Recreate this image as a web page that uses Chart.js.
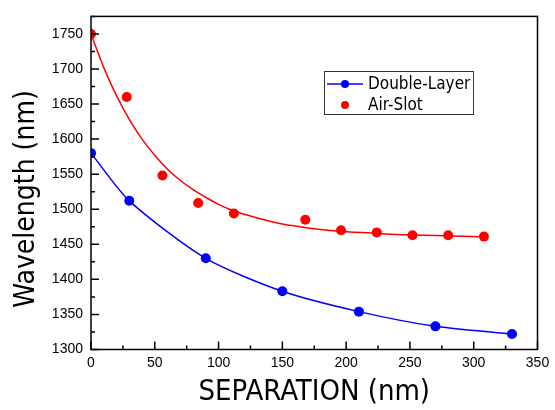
<!DOCTYPE html>
<html>
<head>
<meta charset="utf-8">
<script src="https://cdn.jsdelivr.net/npm/chart.js@4.4.1/dist/chart.umd.min.js"></script>
<style>
  body { margin: 0; background: #fff; }
</style>
</head>
<body>
<canvas id="chart" width="555" height="410"></canvas>
<script>
// Double-Layer (connected points)
const dlSep = [0, 30, 90, 150, 210, 270, 330];
const dlWave = [1580, 1512, 1430, 1383, 1354, 1333, 1322];

// Air-Slot (points only)
const asSep = [0, 28, 56, 84, 112, 168, 196, 224, 252, 280, 308];
const asWave = [1750, 1660, 1548, 1509, 1494, 1485, 1470, 1467, 1463, 1463, 1461];

// Air-Slot fitted curve
const fitSep = [0, 10, 20, 30, 40, 50, 60, 70, 80, 90, 100, 110, 120, 140, 160, 180, 200, 220, 240, 260, 280, 300, 308];
const fitWave = [1750, 1702, 1662, 1628, 1600, 1577, 1557, 1541, 1528, 1517, 1507, 1499, 1493, 1483, 1476, 1471, 1468, 1466, 1464, 1463, 1462, 1461, 1461];

const xTicks = [0, 50, 100, 150, 200, 250, 300, 350];
const yTicks = [1300, 1350, 1400, 1450, 1500, 1550, 1600, 1650, 1700, 1750];

const narrow = '"DejaVu Sans Condensed", "Liberation Sans Narrow", "Liberation Sans", sans-serif';
const toXY = (xs, ys) => xs.map((x, i) => ({ x: x, y: ys[i] }));

// inward ticks (major + minor) and full frame
const framePlugin = {
    id: 'frame',
    afterDraw(chart) {
        const { ctx, chartArea: a, scales: { x, y } } = chart;
        ctx.save();
        ctx.strokeStyle = '#000';
        ctx.lineWidth = 1.5;
        ctx.beginPath();
        for (let v = 0; v <= 350; v += 25) {
            const px = x.getPixelForValue(v);
            const len = v % 50 === 0 ? 8 : 4;
            ctx.moveTo(px, a.bottom);
            ctx.lineTo(px, a.bottom - len);
        }
        for (let v = 1300; v <= 1775; v += 25) {
            const py = y.getPixelForValue(v);
            const len = v % 50 === 0 ? 8 : 4;
            ctx.moveTo(a.left, py);
            ctx.lineTo(a.left + len, py);
        }
        ctx.stroke();
        ctx.strokeRect(a.left, a.top, a.right - a.left, a.bottom - a.top);
        ctx.restore();
    }
};

// boxed legend inside the plot area
const legendPlugin = {
    id: 'boxLegend',
    afterDraw(chart) {
        const ctx = chart.ctx;
        const ds = chart.data.datasets;
        const bx = 324, by = 71, bw = 149, bh = 43;
        ctx.save();
        ctx.fillStyle = '#fff';
        ctx.fillRect(bx, by, bw, bh);
        ctx.strokeStyle = '#333';
        ctx.lineWidth = 1;
        ctx.strokeRect(bx + 0.5, by + 0.5, bw, bh);
        ctx.font = '17px ' + narrow;
        ctx.textBaseline = 'middle';
        [ds[0], ds[1]].forEach((d, i) => {
            const cy = by + 13 + i * 21;
            if (d.showLine !== false) {
                ctx.strokeStyle = d.borderColor;
                ctx.lineWidth = 1.5;
                ctx.beginPath();
                ctx.moveTo(bx + 3, cy);
                ctx.lineTo(bx + 39, cy);
                ctx.stroke();
            }
            ctx.fillStyle = d.pointBackgroundColor;
            ctx.beginPath();
            ctx.arc(bx + 21, cy, 4, 0, Math.PI * 2);
            ctx.fill();
            ctx.fillStyle = '#000';
            ctx.fillText(d.label, bx + 44, cy + 1);
        });
        ctx.restore();
    }
};

new Chart(document.getElementById('chart'), {
    type: 'scatter',
    data: {
        datasets: [{
            label: 'Double-Layer',
            data: toXY(dlSep, dlWave),
            showLine: true,
            borderColor: '#0000ff',
            backgroundColor: '#0000ff',
            pointBackgroundColor: '#0000ff',
            pointBorderWidth: 0,
            pointRadius: 5,
            borderWidth: 1.5,
            tension: 0.25
        }, {
            label: 'Air-Slot',
            data: toXY(asSep, asWave),
            showLine: false,
            borderColor: '#ff0000',
            backgroundColor: '#ff0000',
            pointBackgroundColor: '#ff0000',
            pointBorderWidth: 0,
            pointRadius: 5
        }, {
            label: 'Air-Slot fit',
            data: toXY(fitSep, fitWave),
            showLine: true,
            borderColor: '#ff0000',
            borderWidth: 1.5,
            pointRadius: 0,
            tension: 0.4
        }]
    },
    options: {
        responsive: false,
        animation: false,
        layout: { padding: { left: 0, top: 10, right: 17.5, bottom: 0 } },
        plugins: {
            legend: { display: false },
            tooltip: { enabled: false }
        },
        scales: {
            x: {
                type: 'linear',
                min: 0,
                max: 350,
                afterBuildTicks: s => { s.ticks = xTicks.map(v => ({ value: v })); },
                afterFit: s => { s.height = 60.5; },
                grid: { display: false, drawTicks: false },
                border: { display: false },
                ticks: {
                    padding: 5,
                    color: '#000',
                    callback: v => String(v),
                    font: { family: '"Liberation Sans", sans-serif', size: 14 }
                },
                title: {
                    display: true,
                    text: 'SEPARATION (nm)',
                    color: '#000',
                    padding: { top: 0, bottom: 0 },
                    font: { family: narrow, size: 29 }
                }
            },
            y: {
                type: 'linear',
                min: 1300,
                max: 1775,
                afterBuildTicks: s => { s.ticks = yTicks.map(v => ({ value: v })); },
                afterFit: s => { s.width = 91; },
                grid: { display: false, drawTicks: false },
                border: { display: false },
                ticks: {
                    padding: 8,
                    color: '#000',
                    callback: v => String(v),
                    font: { family: '"Liberation Sans", sans-serif', size: 14 }
                },
                title: {
                    display: true,
                    text: 'Wavelength (nm)\u00a0\u00a0\u00a0\u00a0',
                    color: '#000',
                    padding: { top: 10, bottom: 0 },
                    font: { family: narrow, size: 28 }
                }
            }
        }
    },
    plugins: [framePlugin, legendPlugin]
});
</script>
</body>
</html>
